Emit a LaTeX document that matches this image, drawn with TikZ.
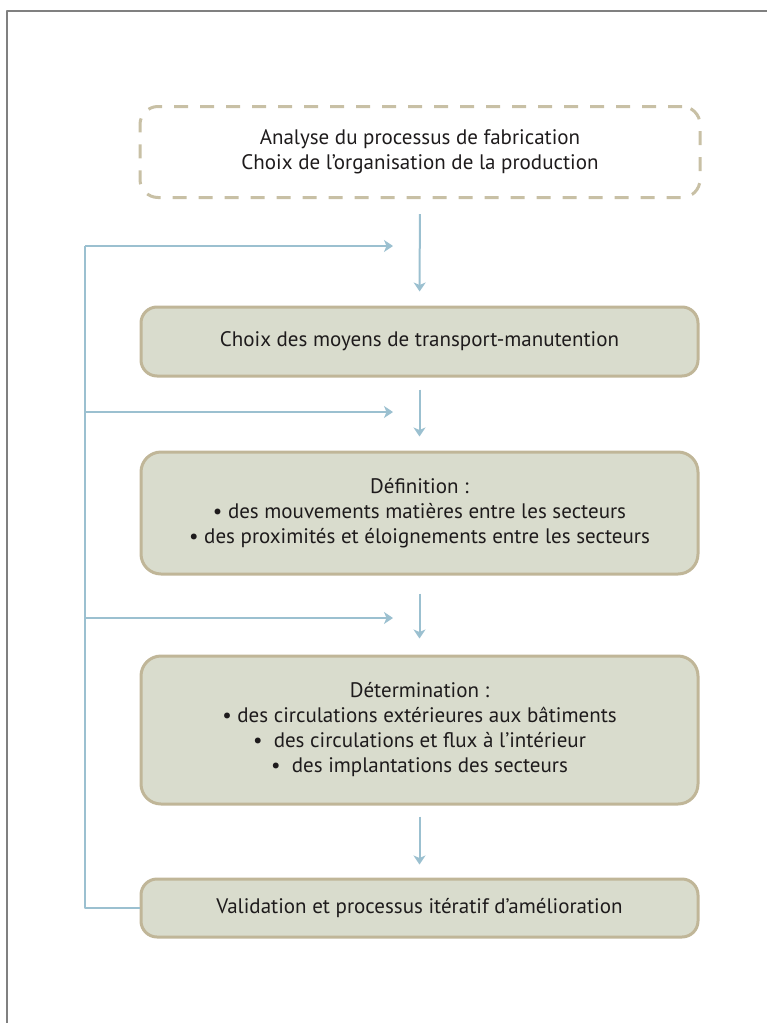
\documentclass[tikz,border=0pt]{standalone}
\usepackage{fontspec}
\setmainfont{PT Sans}
\usetikzlibrary{arrows.meta}

\definecolor{flowblue}{RGB}{155,192,208}
\definecolor{boxfill}{RGB}{217,220,205}
\definecolor{boxrim}{RGB}{192,182,152}
\definecolor{dashrim}{RGB}{200,192,165}
\definecolor{inktext}{RGB}{30,27,28}

\begin{document}
\begin{tikzpicture}[x=1pt, y=-1pt, line join=round,
    every node/.style={font=\fontsize{21}{25}\selectfont, text=inktext, align=center},
    stage/.style={draw=boxrim, line width=3pt, fill=boxfill, rounded corners=16pt,
      minimum width=557pt, inner sep=0pt},
    start/.style={draw=dashrim, line width=3pt, dash pattern=on 14pt off 12pt,
      rounded corners=18pt, minimum width=560pt, minimum height=91pt, inner sep=0pt},
    flow/.style={draw=flowblue, line width=2pt, -{Stealth[length=9pt, width=12pt, inset=2.5pt]}},
    flowline/.style={draw=flowblue, line width=2pt}]

  \useasboundingbox (0,0) rectangle (767,1023);
  \draw[gray, line width=1.5pt] (7,1023) -- (7,11) -- (767,11);

  % steps of the study
  \node[start] (analyse) at (420,152)
    {Analyse du processus de fabrication\\Choix de l’organisation de la production};
  \node[stage, minimum height=69pt] (choix) at (419.5,341.5)
    {Choix des moyens de transport-manutention};
  \node[stage, minimum height=122pt, rounded corners=20pt] (defin) at (419.5,513)
    {Définition :\\
     \textbullet\ des mouvements matières entre les secteurs\\
     \textbullet\ des proximités et éloignements entre les secteurs};
  \node[stage, minimum height=148pt, rounded corners=20pt] (determ) at (419.5,730)
    {Détermination :\\
     \textbullet\ des circulations extérieures aux bâtiments\\
     \textbullet\ \ des circulations et flux à l’intérieur\\
     \textbullet\ \ des implantations des secteurs};
  \node[stage, minimum height=58pt] (valid) at (419.5,908)
    {Validation et processus itératif d’amélioration};

  \draw[flow, shorten <=15pt, shorten >=14pt] (analyse) -- (choix);
  \draw[flow, shorten <=12pt, shorten >=14pt] (choix) -- (defin);
  \draw[flow, shorten <=18pt, shorten >=16pt] (defin) -- (determ);
  \draw[flow, shorten <=11pt, shorten >=13pt] (determ) -- (valid);

  % feedback loop
  \foreach \n/\y in {1/246, 2/412, 3/618}{
    \coordinate (back\n) at (85,\y);
    \coordinate (entry\n) at (393,\y);
    \draw[flow] (back\n) -- (entry\n);
  }
  \draw[flowline] (valid.west) -| (back1);

\end{tikzpicture}
\end{document}
